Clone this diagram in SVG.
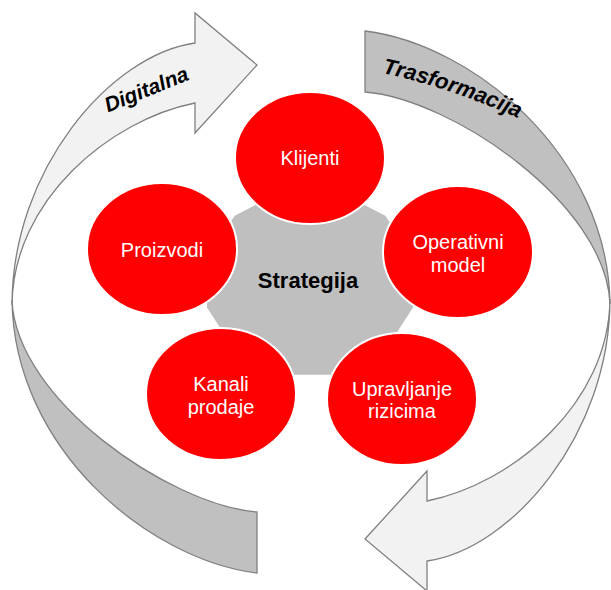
<svg xmlns="http://www.w3.org/2000/svg" width="611" height="590" viewBox="0 0 611 590">
<style>
.light{fill:#f2f2f2;stroke:#808080;stroke-width:1.3;stroke-linejoin:miter}
.dark{fill:#c0c0c0;stroke:#808080;stroke-width:1.3}
.node{fill:#ff0000;stroke:#ffffff;stroke-width:2}
.lbl{font-family:"Liberation Sans",Arial,sans-serif;font-size:20px;fill:#ffffff;text-anchor:middle}
.arrowtxt{font-family:"Liberation Sans",Arial,sans-serif;font-weight:bold;font-style:italic;fill:#000000}
</style>
<defs>
<g id="half">
<path class="dark" d="M 12 300 C 14 450, 150 560, 257 573 L 257 512 C 170 505, 16 400, 12 300 Z"/>
<path class="light" d="M 12 305 C 12 170, 110 55, 195 43 L 195 13 L 257 65 L 195 133 L 195 103 C 110 120, 13 200, 12 305 Z"/>
</g>
<path id="trasPath" d="M 382 73 Q 462 90 548 132"/>
</defs>
<rect width="611" height="590" fill="#ffffff"/>
<g id="connectors">
<use href="#half"/>
<use href="#half" transform="rotate(180 311 302)"/>
<text class="arrowtxt" font-size="21" text-anchor="middle" transform="translate(149 96) rotate(-22)">Digitalna</text>
<text class="arrowtxt" font-size="22"><textPath href="#trasPath" startOffset="0">Trasformacija</textPath></text>
</g>
<g id="strategija">
<polygon fill="#bfbfbf" points="413,307.6 385.4,350.2 337.6,374.8 282.4,374.8 234.6,350.2 207,307.6 207,258.4 234.6,215.8 282.4,191.2 337.6,191.2 385.4,215.8 413,258.4"/>
<text x="308" y="288" font-family="Liberation Sans, Arial, sans-serif" font-size="22" font-weight="bold" fill="#000000" text-anchor="middle">Strategija</text>
</g>
<g id="klijenti">
<ellipse class="node" cx="310" cy="158" rx="75" ry="66"/>
<text class="lbl" x="310" y="165">Klijenti</text>
</g>
<g id="proizvodi">
<ellipse class="node" cx="162" cy="249" rx="75" ry="66"/>
<text class="lbl" x="162" y="257">Proizvodi</text>
</g>
<g id="operativni">
<ellipse class="node" cx="458" cy="252" rx="75" ry="66"/>
<text class="lbl" x="458" y="249">Operativni</text>
<text class="lbl" x="458" y="272">model</text>
</g>
<g id="kanali">
<ellipse class="node" cx="221" cy="394" rx="75" ry="66"/>
<text class="lbl" x="221" y="391">Kanali</text>
<text class="lbl" x="221" y="414">prodaje</text>
</g>
<g id="upravljanje">
<ellipse class="node" cx="402" cy="399" rx="75" ry="66"/>
<text class="lbl" x="402" y="396">Upravljanje</text>
<text class="lbl" x="402" y="418">rizicima</text>
</g>
</svg>
